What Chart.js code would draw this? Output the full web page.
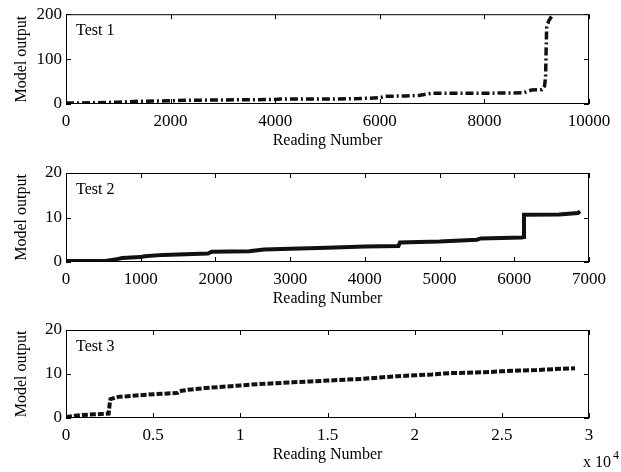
<!DOCTYPE html>
<html>
<head>
<meta charset="utf-8">
<script src="https://cdn.jsdelivr.net/npm/chart.js@4"></script>
<style>
  html, body { margin: 0; padding: 0; background: #fff; }
  #wrap { position: relative; width: 621px; height: 472px; }
  canvas { position: absolute; left: 0; }
</style>
</head>
<body>
<div id="wrap">
  <canvas id="c1" width="621" height="155" style="top:0"></canvas>
  <canvas id="c2" width="621" height="155" style="top:155px"></canvas>
  <canvas id="c3" width="621" height="162" style="top:310px"></canvas>
</div>
<script>
// Test 1
const test1X = [0, 300, 600, 1000, 1400, 2000, 2100, 3000, 4000, 4100, 5000, 5600, 6000, 6100, 6500, 6750, 7000, 8000, 8750, 8900, 9100, 9150, 9170, 9180, 9190, 9230, 9290];
const test1Y = [2, 2, 3, 4, 6, 7, 8, 9, 10, 11, 11, 12, 14, 17, 18, 19, 24, 24, 25, 31, 32, 40, 60, 120, 170, 185, 196];

// Test 2
const test2X = [0, 500, 700, 750, 1000, 1050, 1300, 1900, 1950, 2450, 2650, 3000, 3500, 4000, 4450, 4470, 5000, 5500, 5550, 6100, 6120, 6130, 6600, 6850, 6880];
const test2Y = [0.2, 0.2, 0.7, 0.9, 1.1, 1.3, 1.6, 1.9, 2.3, 2.4, 2.8, 3.0, 3.2, 3.5, 3.6, 4.4, 4.6, 5.0, 5.3, 5.5, 5.6, 10.6, 10.7, 11.0, 11.4];

// Test 3
const test3X = [0, 500, 1000, 2000, 2450, 2500, 2550, 3000, 4000, 5000, 6000, 6400, 6500, 7000, 8000, 9000, 10000, 11000, 12000, 13000, 14000, 15000, 16000, 17000, 18000, 19000, 20000, 21000, 22000, 23000, 24000, 25000, 26000, 27000, 28000, 29200];
const test3Y = [0.2, 0.5, 0.7, 0.9, 1.0, 3.0, 4.3, 4.8, 5.1, 5.4, 5.6, 5.7, 6.1, 6.4, 6.8, 7.1, 7.4, 7.7, 7.9, 8.1, 8.3, 8.5, 8.7, 8.9, 9.2, 9.5, 9.7, 9.9, 10.2, 10.3, 10.4, 10.6, 10.8, 10.9, 11.1, 11.3];

const FONT = 'Liberation Serif, Times New Roman, serif';

// box round the plot with inward ticks on all four sides, plus the panel label
const framePlugin = {
  id: 'frameTicks',
  afterDraw(chart, args, opts) {
    const ctx = chart.ctx;
    const a = chart.chartArea;
    const xs = chart.scales.x;
    const ys = chart.scales.y;
    const len = 5;
    ctx.save();
    ctx.strokeStyle = '#000';
    ctx.lineWidth = 1;
    ctx.strokeRect(a.left + 0.5, a.top + 0.5, a.right - a.left - 1, a.bottom - a.top - 1);
    ctx.beginPath();
    xs.ticks.forEach(function (t) {
      const px = Math.round(xs.getPixelForValue(t.value)) + 0.5;
      ctx.moveTo(px, a.bottom); ctx.lineTo(px, a.bottom - len);
      ctx.moveTo(px, a.top); ctx.lineTo(px, a.top + len);
    });
    ys.ticks.forEach(function (t) {
      const py = Math.round(ys.getPixelForValue(t.value)) + 0.5;
      ctx.moveTo(a.left, py); ctx.lineTo(a.left + len, py);
      ctx.moveTo(a.right, py); ctx.lineTo(a.right - len, py);
    });
    ctx.stroke();
    ctx.fillStyle = '#000';
    ctx.font = '16px ' + FONT;
    ctx.textBaseline = 'middle';
    ctx.textAlign = 'left';
    ctx.fillText(opts.label, a.left + 10, a.top + 17);
    if (opts.exponent) {
      ctx.fillText('x 10', 583, chart.height - 9);
      ctx.font = '12px ' + FONT;
      ctx.fillText('4', 583 + ctx.measureText('x 10').width + 9, chart.height - 16);
    }
    ctx.restore();
  }
};

function makeChart(id, xs, ys, opt) {
  const canvas = document.getElementById(id);
  const points = xs.map(function (x, i) { return { x: x, y: ys[i] }; });
  const h = canvas.height;
  const xAxisH = h - opt.top - opt.plotH;
  return new Chart(canvas, {
    type: 'line',
    data: {
      datasets: [{
        data: points,
        borderColor: '#111',
        borderWidth: opt.lineWidth,
        borderDash: opt.dash,
        pointRadius: 0,
        tension: 0,
        fill: false
      }]
    },
    options: {
      responsive: false,
      animation: false,
      events: [],
      layout: { padding: { top: opt.top, right: 32, left: 0, bottom: 0 } },
      plugins: {
        legend: { display: false },
        tooltip: { enabled: false },
        frameTicks: { label: opt.label, exponent: opt.exponent }
      },
      scales: {
        x: {
          type: 'linear',
          min: 0,
          max: opt.xMax,
          grid: { display: false, drawTicks: false },
          border: { display: false },
          afterFit: function (s) { s.height = xAxisH; },
          ticks: {
            stepSize: opt.xStep,
            padding: 7,
            maxRotation: 0,
            autoSkip: false,
            color: '#000',
            font: { family: FONT, size: 17 },
            callback: opt.xFormat || function (v) { return String(v); }
          },
          title: {
            display: true,
            text: 'Reading Number',
            color: '#000',
            font: { family: FONT, size: 16 },
            padding: { top: 0, bottom: opt.titleBottom }
          }
        },
        y: {
          min: 0,
          max: opt.yMax,
          grid: { display: false, drawTicks: false },
          border: { display: false },
          afterFit: function (s) { s.width = 66; },
          ticks: {
            stepSize: opt.yMax / 2,
            padding: 4,
            color: '#000',
            font: { family: FONT, size: 17 }
          },
          title: {
            display: true,
            text: 'Model output',
            color: '#000',
            font: { family: FONT, size: 16 },
            padding: { top: 12, bottom: 0 }
          }
        }
      }
    },
    plugins: [framePlugin]
  });
}

makeChart('c1', test1X, test1Y, {
  top: 13, plotH: 91, xMax: 10000, xStep: 2000, yMax: 200,
  lineWidth: 3.5, dash: [8, 3, 2, 3], label: 'Test 1', titleBottom: 5
});
makeChart('c2', test2X, test2Y, {
  top: 18, plotH: 89, xMax: 7000, xStep: 1000, yMax: 20,
  lineWidth: 4, dash: [], label: 'Test 2', titleBottom: 2
});
makeChart('c3', test3X, test3Y, {
  top: 20, plotH: 88, xMax: 30000, xStep: 5000, yMax: 20,
  lineWidth: 4, dash: [6, 2], label: 'Test 3', titleBottom: 8, exponent: true,
  xFormat: function (v) { return String(v / 10000); }
});
</script>
</body>
</html>
